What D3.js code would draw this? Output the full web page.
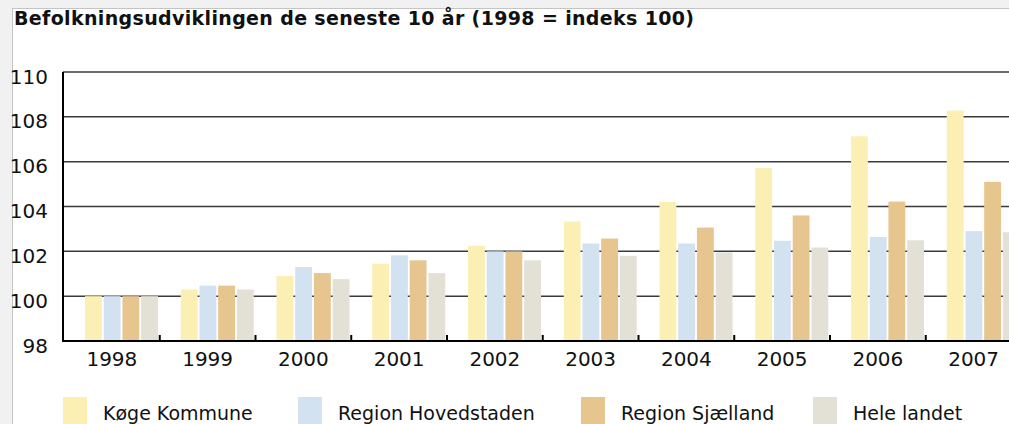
<!DOCTYPE html>
<html>
<head>
<meta charset="utf-8">
<script src="https://cdn.jsdelivr.net/npm/d3@7"></script>
<style>
  body { margin: 0; background: #f1f1f1; overflow: hidden; }
  svg { display: block; font-family: "DejaVu Sans", Verdana, sans-serif; }
</style>
</head>
<body>
<div id="chart"></div>
<script>
// Data
const years = ['1998', '1999', '2000', '2001', '2002', '2003', '2004', '2005', '2006', '2007'];
const series = ['Køge Kommune', 'Region Hovedstaden', 'Region Sjælland', 'Hele landet'];
const koege = [100, 100.3, 100.9, 101.45, 102.25, 103.33, 104.2, 105.72, 107.13, 108.28];
const hovedstaden = [100, 100.47, 101.3, 101.82, 102.0, 102.35, 102.35, 102.47, 102.64, 102.9];
const sjaelland = [100, 100.47, 101.03, 101.6, 102.0, 102.57, 103.06, 103.6, 104.22, 105.1];
const heleLandet = [100, 100.3, 100.76, 101.03, 101.6, 101.8, 101.95, 102.17, 102.49, 102.85];
const yTicks = [98, 100, 102, 104, 106, 108, 110];
const colors = ['#fcefb3', '#d2e2f0', '#e7c58f', '#e3e1d5'];

const title = 'Befolkningsudviklingen de seneste 10 år (1998 = indeks 100)';

const rows = years.map((yr, i) => ({
  year: yr,
  values: [koege[i], hovedstaden[i], sjaelland[i], heleLandet[i]]
}));

const width = 1009;
const height = 424;

const svg = d3.select('#chart').append('svg')
  .attr('width', width)
  .attr('height', height);

// white panel
svg.append('rect')
  .attr('x', 12.5)
  .attr('y', 8.5)
  .attr('width', width + 20)
  .attr('height', height + 20)
  .attr('fill', '#ffffff')
  .attr('stroke', '#c4c4c4');

svg.append('text')
  .attr('x', 14)
  .attr('y', 25)
  .style('font-size', '19px')
  .style('font-weight', 'bold')
  .style('letter-spacing', '0.35px')
  .attr('fill', '#111')
  .text(title);

const x = d3.scaleBand()
  .domain(years)
  .range([64, 64 + 957.5])
  .padding(0);

const x1 = d3.scaleBand()
  .domain(series)
  .range([21, 94])
  .paddingInner(0.1);

const y = d3.scaleLinear()
  .domain([98, 110])
  .range([341, 72]);

const color = d3.scaleOrdinal().domain(series).range(colors);

// gridlines
svg.append('g')
  .selectAll('line')
  .data(yTicks.filter(d => d > 98))
  .enter().append('line')
  .attr('x1', 63)
  .attr('x2', width)
  .attr('y1', d => y(d))
  .attr('y2', d => y(d))
  .attr('stroke', '#3a3a3a')
  .attr('stroke-width', 1.5);

// bars
const groups = svg.append('g')
  .selectAll('g')
  .data(rows)
  .enter().append('g')
  .attr('transform', d => `translate(${x(d.year)},0)`);

groups.selectAll('rect')
  .data(d => d.values.map((v, i) => ({ key: series[i], value: v })))
  .enter().append('rect')
  .attr('x', d => x1(d.key))
  .attr('y', d => y(d.value))
  .attr('width', x1.bandwidth())
  .attr('height', d => y(98) - y(d.value))
  .attr('fill', d => color(d.key));

// y axis labels
const yAxis = svg.append('g')
  .attr('transform', 'translate(48,0)')
  .call(d3.axisLeft(y).tickValues(yTicks).tickSize(0).tickPadding(0));
yAxis.select('.domain').remove();
yAxis.selectAll('text')
  .attr('dy', '0.55em')
  .style('font-size', '20px')
  .style('font-family', '"DejaVu Sans", Verdana, sans-serif')
  .attr('fill', '#111');

// x axis labels
const xAxis = svg.append('g')
  .attr('transform', `translate(0,${y(98)})`)
  .call(d3.axisBottom(x).tickSize(0).tickPadding(11));
xAxis.select('.domain').remove();
xAxis.selectAll('text')
  .style('font-size', '20px')
  .style('font-family', '"DejaVu Sans", Verdana, sans-serif')
  .attr('fill', '#111');

// ticks between the year groups
svg.append('g')
  .selectAll('line')
  .data(years.slice(1))
  .enter().append('line')
  .attr('x1', d => x(d))
  .attr('x2', d => x(d))
  .attr('y1', y(98))
  .attr('y2', y(98) - 6)
  .attr('stroke', '#000')
  .attr('stroke-width', 2);

// axis lines
svg.append('line')
  .attr('x1', 63).attr('x2', 63)
  .attr('y1', y(110)).attr('y2', y(98) + 1)
  .attr('stroke', '#000').attr('stroke-width', 2);
svg.append('line')
  .attr('x1', 62).attr('x2', width)
  .attr('y1', y(98)).attr('y2', y(98))
  .attr('stroke', '#000').attr('stroke-width', 2);

// legend
const legendX = [63, 298, 581, 813];
const legend = svg.append('g')
  .selectAll('g')
  .data(series)
  .enter().append('g')
  .attr('transform', (d, i) => `translate(${legendX[i]},397)`);

legend.append('rect')
  .attr('width', 24)
  .attr('height', 40)
  .attr('fill', d => color(d));

legend.append('text')
  .attr('x', 40)
  .attr('y', 23)
  .style('font-size', '19px')
  .attr('fill', '#111')
  .text(d => d);
</script>
</body>
</html>
